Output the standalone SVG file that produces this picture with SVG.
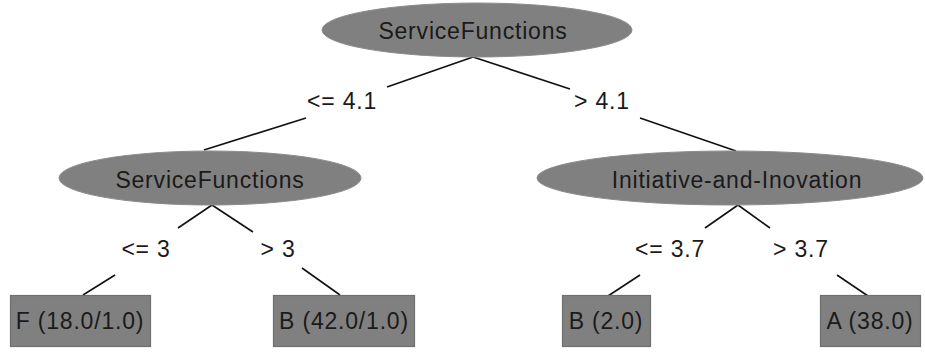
<svg xmlns="http://www.w3.org/2000/svg" width="925" height="354" viewBox="0 0 925 354">
<style>
.n{fill:#808080;stroke:#8c8c8c;stroke-width:1}
.b{fill:#808080;stroke:#6e6e6e;stroke-width:1.2}
.t{font-family:"Liberation Sans",Arial,sans-serif;font-size:23px;letter-spacing:0.8px;fill:#1a1a1a;text-anchor:middle;dominant-baseline:central}
.l{fill:none;stroke:#111;stroke-width:1.6}
</style>
<rect width="925" height="354" fill="#fff"/>
<g id="connectors">
<line class="l" x1="473" y1="57" x2="387" y2="87"/>
<line class="l" x1="473" y1="57" x2="570" y2="89"/>
<line class="l" x1="306" y1="118" x2="204" y2="150"/>
<line class="l" x1="640" y1="118" x2="736" y2="151"/>
<line class="l" x1="212" y1="205" x2="178" y2="228"/>
<line class="l" x1="212" y1="205" x2="253" y2="232"/>
<line class="l" x1="115" y1="275" x2="83" y2="295"/>
<line class="l" x1="302" y1="268" x2="340" y2="295"/>
<line class="l" x1="738" y1="205" x2="705" y2="228"/>
<line class="l" x1="738" y1="205" x2="770" y2="228"/>
<line class="l" x1="640" y1="275" x2="608" y2="296"/>
<line class="l" x1="837" y1="275" x2="868" y2="296"/>
</g>
<g id="labels">
<text class="t" x="342" y="101">&lt;= 4.1</text>
<text class="t" x="602" y="101">&gt; 4.1</text>
<text class="t" x="146" y="249">&lt;= 3</text>
<text class="t" x="278" y="249">&gt; 3</text>
<text class="t" x="670" y="249">&lt;= 3.7</text>
<text class="t" x="801" y="249">&gt; 3.7</text>
</g>
<g id="root">
<ellipse class="n" cx="477" cy="30" rx="155" ry="27"/>
<text class="t" x="473" y="31">ServiceFunctions</text>
</g>
<g id="sf2">
<ellipse class="n" cx="210" cy="178" rx="151" ry="27"/>
<text class="t" x="210" y="180">ServiceFunctions</text>
</g>
<g id="ii">
<ellipse class="n" cx="730" cy="178" rx="193" ry="27"/>
<text class="t" x="737" y="180">Initiative-and-Inovation</text>
</g>
<g id="leafF">
<rect class="b" x="10.5" y="295.5" width="140" height="51"/>
<text class="t" x="80" y="321">F (18.0/1.0)</text>
</g>
<g id="leafB1">
<rect class="b" x="273.5" y="295.5" width="141" height="51"/>
<text class="t" x="344" y="321">B (42.0/1.0)</text>
</g>
<g id="leafB2">
<rect class="b" x="562.5" y="295.5" width="88" height="51"/>
<text class="t" x="606" y="321">B (2.0)</text>
</g>
<g id="leafA">
<rect class="b" x="820.5" y="295.5" width="100" height="51"/>
<text class="t" x="870" y="321">A (38.0)</text>
</g>
</svg>
